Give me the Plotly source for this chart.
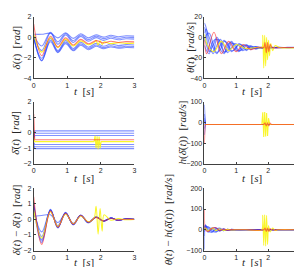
import plotly.graph_objects as go

# ---------------- data ----------------
# time grids [s]
T_d = [0, 0.24, 0.5, 0.72, 0.95, 1.18, 1.4, 1.63, 1.86, 2.08, 2.3, 2.52, 2.75, 3.0]
T_yb = [0, 0.24, 0.5, 0.72, 0.95, 1.18, 1.4, 1.63, 1.8, 1.86, 1.92, 1.98, 2.04, 2.1, 2.3, 2.52, 2.75, 3.0]

# panel 1: delta(t) [rad]
d_blue = [
    [0.3, 0.3, 0.4, -0.05, 0.45, -0.1, 0.35, -0.05, 0.25, 0.02, 0.2, 0.06, 0.15, 0.12],
    [0.2, -0.85, 0.5, -0.45, 0.37, -0.33, 0.22, -0.23, 0.12, -0.13, 0.05, -0.09, 0.01, -0.03],
    [0.1, -1.3, 0.42, -0.68, 0.24, -0.5, 0.09, -0.38, -0.03, -0.3, -0.09, -0.24, -0.14, -0.18],
    [0.0, -2.05, -0.1, -1.3, -0.3, -1.1, -0.47, -0.97, -0.59, -0.87, -0.66, -0.81, -0.71, -0.75],
    [0.0, -2.3, -0.28, -1.42, -0.47, -1.23, -0.64, -1.1, -0.75, -1.01, -0.82, -0.96, -0.87, -0.9],
    [0.05, -2.25, -0.44, -1.5, -0.62, -1.32, -0.77, -1.21, -0.88, -1.12, -0.94, -1.07, -0.99, -1.02],
]
d_red = [1.3, -1.8, 0.1, -0.95, -0.05, -0.75, -0.2, -0.63, -0.32, -0.55, -0.38, -0.5, -0.42, -0.45]
d_yel = [0.3, -1.45, -0.05, -1.0, -0.2, -0.85, -0.35, -0.72, -0.5, -0.3, -0.75, -0.35, -0.7, -0.45, -0.62, -0.52, -0.59, -0.57]

# panel 2: theta_dot(t) [rad/s]
T_w = [0, 0.05, 0.15, 0.27, 0.39, 0.5, 0.62, 0.73, 0.85, 0.96, 1.08, 1.2, 1.32, 1.45, 1.6, 1.8, 2.0, 2.3, 2.6, 3.0]
w_blue = [
    [14, 10, -6, -16, -8, -2, -9, -15, -10, -6, -8, -13, -11, -8, -11, -10, -11, -9.5, -10.3, -10],
    [4, 8, 0, -10, -16, -8, -3, -8, -14, -11, -7, -8, -12, -10, -9, -11, -9.5, -10.5, -9.8, -10],
    [-8, -12, -16, -4, -2, -12, -16, -7, -5, -12, -13, -8, -8, -12, -9, -10.5, -10, -10, -10, -10],
    [10, 4, -12, -14, -2, -4, -14, -13, -6, -7, -13, -12, -8, -9, -11.5, -9.5, -10.5, -10, -10, -10],
    [0, -6, -14, -8, 0, -6, -15, -10, -4, -9, -14, -10, -7, -11, -10, -10.5, -9.5, -10, -10, -10],
    [-4, 2, 4, -6, -15, -12, -4, -6, -13, -12, -6, -9, -13, -9, -10.5, -10, -10, -10, -10, -10],
]
T_wr = [0, 0.07, 0.3, 0.53, 0.76, 0.99, 1.22, 1.45, 1.7, 1.86, 1.9, 1.94, 1.98, 2.02, 2.06, 2.12, 2.5, 3.0]
w_red = [-3, -16, 5, -16, -4, -14, -7, -12, -9.5, -10, -5, -15, -5, -14, -7, -10, -10, -10]
T_wy = [0, 0.1, 0.3, 0.53, 0.76, 1.0, 1.3, 1.6, 1.8, 1.83, 1.86, 1.89, 1.92, 1.95, 1.98, 2.01, 2.04, 2.08, 2.14, 2.22, 2.35, 3.0]
w_yel = [3, -8, -14, -4, -13, -7, -11, -10, -10, 2, -30, 2, -28, 0, -22, -3, -18, -6, -13, -8, -10, -10]

# panel 3: delta_bar(t) [rad]
T_b = [0, 0.03, 3.0]
b_blue = [
    [-0.3, 0.12, 0.12],
    [-0.4, -0.03, -0.03],
    [-0.5, -0.18, -0.18],
    [-0.6, -0.75, -0.75],
    [-0.9, -0.9, -0.9],
    [-0.7, -1.02, -1.02],
]
b_red = [1.2, -0.45, -0.45]
T_by = [0, 0.03, 1.8, 1.83, 1.86, 1.89, 1.92, 1.95, 1.98, 2.01, 3.0]
b_yel = [-0.3, -0.57, -0.57, -0.2, -1.0, -0.22, -1.05, -0.25, -1.0, -0.57, -0.57]

# panel 4: h(delta_bar(t)) [rad/s]
h_blue = [
    [85, -10, -10],
    [40, -10, -10],
    [10, -10, -10],
    [-30, -10, -10],
    [-60, -10, -10],
    [20, -10, -10],
]
T_hr = [0, 0.02, 1.86, 1.9, 1.94, 1.98, 2.02, 2.06, 2.1, 3.0]
h_red = [-100, -10, -10, -2, -18, -2, -18, -4, -10, -10]
T_hy = [0, 0.02, 1.8, 1.83, 1.86, 1.89, 1.92, 1.95, 1.98, 2.01, 2.05, 3.0]
h_yel = [-10, -10, -10, 48, -70, 50, -68, 45, -65, 20, -10, -10]

# panel 5: delta(t) - delta_bar(t) [rad]
e_blue = [
    [0.2, 0.25, 0.3, -0.2, 0.35, -0.25, 0.25, -0.18, 0.15, -0.1, 0.08, -0.05, 0.03, 0.0],
    [0.6, -0.8, 0.55, -0.4, 0.4, -0.3, 0.25, -0.2, 0.15, -0.1, 0.08, -0.06, 0.04, 0.0],
    [0.9, -1.1, 0.6, -0.5, 0.42, -0.32, 0.27, -0.2, 0.15, -0.12, 0.09, -0.06, 0.04, 0.0],
    [1.0, -1.3, 0.65, -0.55, 0.45, -0.35, 0.28, -0.22, 0.16, -0.12, 0.09, -0.06, 0.04, 0.01],
    [1.1, -1.4, 0.62, -0.52, 0.43, -0.33, 0.26, -0.2, 0.15, -0.11, 0.08, -0.06, 0.03, 0.0],
    [0.8, -1.5, 0.58, -0.48, 0.4, -0.3, 0.25, -0.19, 0.14, -0.1, 0.08, -0.05, 0.03, 0.0],
]
e_red = [1.45, -1.6, 0.55, -0.5, 0.4, -0.3, 0.25, -0.18, 0.13, -0.1, 0.07, -0.05, 0.03, 0.0]
e_yel = [0.6, -1.2, 0.5, -0.45, 0.35, -0.28, 0.22, -0.15, 0.1, 0.85, -0.95, 0.7, -0.75, 0.3, -0.05, 0.05, -0.02, 0.0]

# panel 6: theta_dot(t) - h(delta_bar(t)) [rad/s]
T_r = [0, 0.03, 0.12, 0.24, 0.36, 0.48, 0.6, 0.72, 0.85, 1.0, 1.3, 1.8, 2.3, 3.0]
r_blue = [
    [-95, 15, -8, 10, -6, 6, -4, 3, -2, 1, 0, 0, 0, 0],
    [10, 22, 5, -10, 8, -6, 4, -3, 2, -1, 0, 0, 0, 0],
    [-30, 18, 12, -5, -12, 5, -4, 2, -2, 1, 0, 0, 0, 0],
    [20, 12, -12, 6, 10, -5, 3, -3, 1, 0, 0, 0, 0, 0],
    [-10, 8, 15, 2, -8, -3, 5, -2, 1, 0, 0, 0, 0, 0],
    [5, 25, -5, -12, 3, 8, -3, -2, 2, 0, 0, 0, 0, 0],
]
T_rr = [0, 0.03, 0.12, 0.24, 0.36, 0.48, 0.6, 0.72, 0.85, 1.0, 1.3, 1.86, 1.9, 1.94, 1.98, 2.02, 2.06, 2.1, 2.3, 3.0]
r_red = [100, 0, -8, 8, 10, -4, 4, -2, 1, 0, 0, 0, 8, -8, 8, -8, 6, 0, 0, 0]
T_ry = [0, 0.03, 0.12, 0.24, 0.36, 0.48, 0.6, 0.72, 0.85, 1.0, 1.3, 1.8, 1.83, 1.86, 1.89, 1.92, 1.95, 1.98, 2.01, 2.06, 2.14, 2.22, 2.3, 3.0]
r_yel = [0, 10, -6, 8, -4, 5, -3, 2, -1, 0, 0, 0, 70, -75, 72, -78, 70, -70, 20, -10, 8, -3, 0, 0]

x_ticks = [0, 1, 2, 3]
y_ticks = {
    1: [-4, -2, 0, 2],
    2: [-40, -20, 0, 20],
    3: [-2, -1, 0, 1, 2],
    4: [-200, -100, 0, 100],
    5: [-2, -1, 0, 1, 2],
    6: [-100, 0, 100, 200],
}
y_ranges = {1: [-4, 2], 2: [-40, 20], 3: [-2, 2], 4: [-200, 100], 5: [-2, 2], 6: [-100, 200]}

MAC = "\u0304"
DOT = "\u0307"
SP = "\u00a0"
y_titles = {
    1: "<i>δ</i>(<i>t</i>)" + SP + SP + "[<i>rad</i>]",
    2: "<i>θ" + DOT + "</i>(<i>t</i>)" + SP + SP + "[<i>rad/s</i>]",
    3: "<i>δ" + MAC + "</i>(<i>t</i>)" + SP + SP + "[<i>rad</i>]",
    4: "<i>h</i>(<i>δ" + MAC + "</i>(<i>t</i>))" + SP + SP + "[<i>rad/s</i>]",
    5: "<i>δ</i>(<i>t</i>) − <i>δ" + MAC + "</i>(<i>t</i>)" + SP + SP + "[<i>rad</i>]",
    6: "<i>θ" + DOT + "</i>(<i>t</i>) − <i>h</i>(<i>δ" + MAC + "</i>(<i>t</i>))" + SP + SP + "[<i>rad/s</i>]",
}
x_title = "<i>t</i>" + SP + SP + "[<i>s</i>]"

# ---------------- figure ----------------
W, H = 302, 267
BLUE = "rgba(25,55,255,0.55)"
RED = "rgba(255,35,35,0.6)"
YEL = "rgba(250,245,20,0.9)"

fig = go.Figure()


def add(k, t, y, color, shape="spline", smoothing=1.0):
    xa = "x" if k == 1 else f"x{k}"
    ya = "y" if k == 1 else f"y{k}"
    line = dict(color=color, width=1.1, shape=shape)
    if shape == "spline":
        line["smoothing"] = smoothing
    fig.add_trace(go.Scatter(x=t, y=y, mode="lines", line=line, xaxis=xa, yaxis=ya,
                             showlegend=False, hoverinfo="skip"))


for s in d_blue:
    add(1, T_d, s, BLUE)
add(1, T_yb, d_yel, YEL)
add(1, T_d, d_red, RED)

for s in w_blue:
    add(2, T_w, s, BLUE)
add(2, T_wy, w_yel, YEL)
add(2, T_wr, w_red, RED)

for s in b_blue:
    add(3, T_b, s, BLUE, shape="linear")
add(3, T_by, b_yel, YEL, shape="linear")
add(3, T_b, b_red, RED, shape="linear")

for s in h_blue:
    add(4, T_b, s, BLUE, shape="linear")
add(4, T_hy, h_yel, YEL, shape="linear")
add(4, T_hr, h_red, RED, shape="linear")

for s in e_blue:
    add(5, T_d, s, BLUE)
add(5, T_yb, e_yel, YEL)
add(5, T_d, e_red, RED)

for s in r_blue:
    add(6, T_r, s, BLUE, smoothing=0.6)
add(6, T_ry, r_yel, YEL, smoothing=0.6)
add(6, T_rr, r_red, RED, smoothing=0.6)

# pixel layout of panels
cols = {0: (24, 126), 1: (197, 294)}
rows = {0: (5, 68), 1: (92, 156), 2: (181, 245)}
ytitle_x = {1: 7, 2: 183, 3: 6, 4: 175, 5: 6, 6: 161}
xtitle_y = {0: 81, 1: 170, 2: 257}

AX = "#404040"
layout = dict(width=W, height=H, margin=dict(l=0, r=0, t=0, b=0),
              paper_bgcolor="white", plot_bgcolor="white", showlegend=False)
annotations = []
for k in range(1, 7):
    r = (k - 1) // 2
    c = (k - 1) % 2
    x0, x1 = cols[c]
    y0, y1 = rows[r]
    xd = [x0 / W, x1 / W]
    yd = [1 - y1 / H, 1 - y0 / H]
    xname = "xaxis" if k == 1 else f"xaxis{k}"
    yname = "yaxis" if k == 1 else f"yaxis{k}"
    ya = "y" if k == 1 else f"y{k}"
    xa = "x" if k == 1 else f"x{k}"
    layout[xname] = dict(domain=xd, anchor=ya, range=[0, 3], tickvals=x_ticks,
                         showline=True, linecolor=AX, linewidth=0.8, ticks="inside",
                         ticklen=2, tickcolor=AX, showgrid=False, zeroline=False,
                         tickfont=dict(family="Liberation Sans", size=7, color="#262626"))
    layout[yname] = dict(domain=yd, anchor=xa, range=y_ranges[k], tickvals=y_ticks[k],
                         showline=True, linecolor=AX, linewidth=0.8, ticks="inside",
                         ticklen=2, tickcolor=AX, showgrid=False, zeroline=False,
                         tickfont=dict(family="Liberation Sans", size=7, color="#262626"))
    annotations.append(dict(text=x_title, xref="paper", yref="paper",
                            x=(x0 + x1) / 2 / W, y=1 - xtitle_y[r] / H,
                            showarrow=False, xanchor="center", yanchor="middle",
                            font=dict(family="Liberation Serif", size=11, color="#262626")))
    annotations.append(dict(text=y_titles[k], xref="paper", yref="paper",
                            x=ytitle_x[k] / W, y=1 - (y0 + y1) / 2 / H, textangle=-90,
                            showarrow=False, xanchor="center", yanchor="middle",
                            font=dict(family="Liberation Serif", size=11, color="#262626")))

layout["annotations"] = annotations
fig.update_layout(**layout)
fig.write_html("out.html")
